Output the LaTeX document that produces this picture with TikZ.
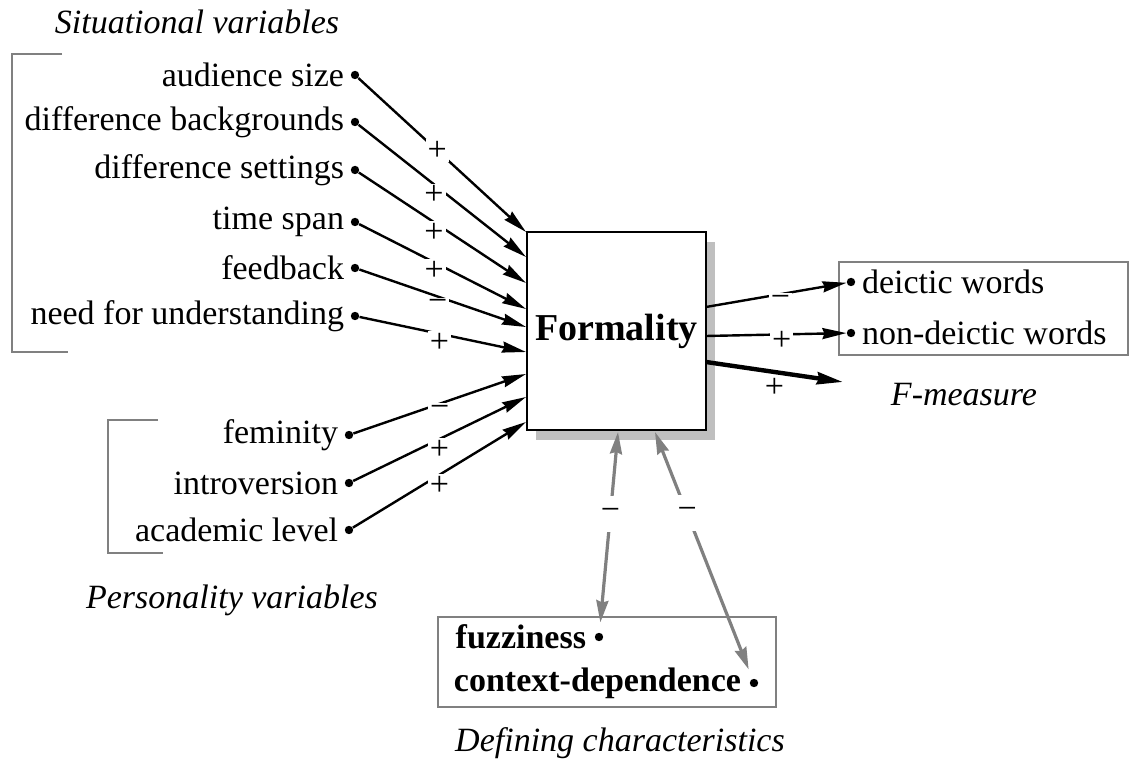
\documentclass[tikz,border=0pt]{standalone}
\usepackage{fontspec}
\setmainfont{Liberation Serif}
\usetikzlibrary{arrows.meta, positioning, shadows}

\begin{document}
\begin{tikzpicture}[
                x=0.5pt, y=-0.5pt,
                font=\fontsize{17}{20}\selectfont,
                dot/.style={circle, fill, inner sep=0pt, minimum size=4.2pt},
                var/.style={inner sep=0pt},
                sign/.style={fill=white, inner sep=1pt},
                gsign/.style={sign, minimum height=18pt},
                bracket/.style={draw=gray, line width=1pt},
                graybox/.style={draw=gray, line width=1pt},
                fbox/.style={draw, line width=1.3pt, fill=white, minimum width=89.5pt, minimum height=99pt,
                    font=\fontsize{19}{22}\selectfont\bfseries,
                    drop shadow={shadow xshift=4.5pt, shadow yshift=-5pt, fill=gray!50, opacity=1}},
                arrow/.style={line width=1.2pt, -{Stealth[length=12pt, width=5.5pt, inset=1pt]}},
                thickarrow/.style={line width=2.2pt, -{Stealth[length=13pt, width=6pt, inset=1pt]}},
                garrow/.style={draw=gray, line width=1.6pt, {Stealth[length=11pt, width=6pt, inset=1pt]}-{Stealth[length=11pt, width=6pt, inset=1pt]}, shorten >=5pt}
            ]
            \useasboundingbox (0,0) rectangle (1131,769);

            % central box
            \node (form) [fbox] at (616.5,331) {Formality};

            % situational variables
            \node (sit) at (197,22) {\textit{Situational variables}};
            \draw [bracket] (62,54) -| (12,352) -- (68,352);
            \node (audd) [dot] at (355,75) {};
            \node (bckd) [dot] at (355,122) {};
            \node (setd) [dot] at (355,170) {};
            \node (timd) [dot] at (355,222) {};
            \node (feed) [dot] at (355,268) {};
            \node (need) [dot] at (355,316) {};
            \node (aud) [var, left=3pt of audd] {audience size};
            \node (bck) [var, left=3pt of bckd] {difference backgrounds};
            \node (set) [var, left=3pt of setd] {difference settings};
            \node (tim) [var, left=3pt of timd] {time span};
            \node (fee) [var, left=3pt of feed] {feedback};
            \node (nee) [var, left=3pt of need] {need for understanding};

            % personality variables
            \node (pers) at (232,600) {\textit{Personality variables}};
            \draw [bracket] (158,420) -| (108,553) -- (163,553);
            \node (femd) [dot] at (349,435) {};
            \node (intd) [dot] at (349,483) {};
            \node (acad) [dot] at (349,530) {};
            \node (fem) [var, left=3pt of femd] {feminity};
            \node (int) [var, left=3pt of intd] {introversion};
            \node (aca) [var, left=3pt of acad] {academic level};

            \coordinate (in1) at (526,232);
            \coordinate (in2) at (526,257);
            \coordinate (in3) at (526,283);
            \coordinate (in4) at (526,309);
            \coordinate (in5) at (526,327);
            \coordinate (in6) at (526,352);
            \coordinate (in7) at (526,374);
            \coordinate (in8) at (526,397);
            \coordinate (in9) at (526,422);

            \draw [arrow] (audd) -- node (s1) [sign, pos=0.47] {+} (in1);
            \draw [arrow] (bckd) -- node (s2) [sign, pos=0.45, below=-1pt] {+} (in2);
            \draw [arrow] (setd) -- node (s3) [sign, pos=0.45, below=-1pt] {+} (in3);
            \draw [arrow] (timd) -- node (s4) [sign, pos=0.45, below=-2pt] {+} (in4);
            \draw [arrow] (feed) -- node (s5) [sign, pos=0.47, below=0pt] {−} (in5);
            \draw [arrow] (need) -- node (s6) [sign, pos=0.48, below=-2pt] {+} (in6);
            \draw [arrow] (femd) -- node (s7) [sign, pos=0.5, below=-1pt] {−} (in7);
            \draw [arrow] (intd) -- node (s8) [sign, pos=0.5, below=-1pt] {+} (in8);
            \draw [arrow] (acad) -- node (s9) [sign, pos=0.5, below=-1pt] {+} (in9);

            % indicators
            \node (dbox) [graybox, minimum width=144.5pt, minimum height=46.5pt] at (983.5,308.5) {};
            \node (ddot) [dot] at (851,282) {};
            \node (ndot) [dot] at (851,333) {};
            \node (dei) [var, right=3pt of ddot] {deictic words};
            \node (nde) [var, right=3pt of ndot] {non-deictic words};
            \node (fmea) at (964,395) {\textit{F-measure}};

            \coordinate (out1) at (706,307);
            \coordinate (out2) at (706,336);
            \coordinate (out3) at (706,362);
            \coordinate (fend) at (843,382);

            \draw [arrow] (out1) -- node (s10) [sign, pos=0.53, below=-1pt] {−} (ddot);
            \draw [arrow] (out2) -- node (s11) [sign, pos=0.54, below=-3pt] {+} (ndot);
            \draw [thickarrow] (out3) -- node (s12) [sign, pos=0.5, below=1pt] {+} (fend);

            % defining characteristics
            \node (cbox) [graybox, minimum width=169pt, minimum height=45pt] at (607,662) {};
            \node (fdot) [dot] at (599,637) {};
            \node (cdot) [dot] at (754,683) {};
            \node (fuz) [var, left=4pt of fdot] {\textbf{fuzziness}};
            \node (con) [var, left=4pt of cdot] {\textbf{context-dependence}};
            \node (defc) at (620,743) {\textit{Defining characteristics}};

            \coordinate (bA) at (618,432);
            \coordinate (bB) at (655,432);

            \draw [garrow] (bA) -- node (s13) [gsign, pos=0.41] {−} (fdot);
            \draw [garrow] (bB) -- node (s14) [gsign, pos=0.33] {−} (cdot);
\end{tikzpicture}
\end{document}
